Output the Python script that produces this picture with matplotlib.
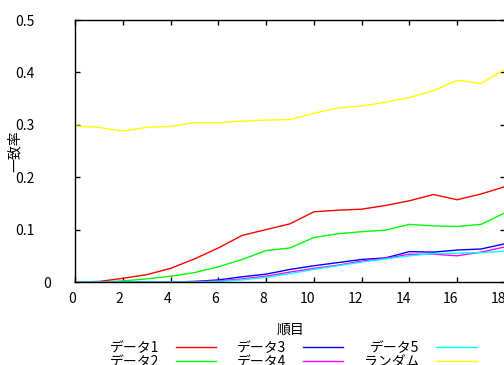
import matplotlib
matplotlib.use("Agg")
import matplotlib.pyplot as plt
from matplotlib.transforms import ScaledTranslation

plt.rcParams['font.family'] = ['Noto Sans CJK JP', 'DejaVu Sans']

# order position
steps = list(range(19))

data1 = [0.000, 0.001, 0.007, 0.014, 0.026, 0.044, 0.065, 0.089, 0.100, 0.111,
         0.134, 0.137, 0.139, 0.146, 0.155, 0.167, 0.157, 0.168, 0.182]
data2 = [0.000, 0.000, 0.002, 0.006, 0.011, 0.018, 0.029, 0.043, 0.060, 0.065,
         0.085, 0.092, 0.096, 0.099, 0.110, 0.107, 0.106, 0.110, 0.132]
data3 = [0.000, 0.000, 0.000, 0.000, 0.000, 0.001, 0.004, 0.010, 0.015, 0.024,
         0.031, 0.037, 0.043, 0.046, 0.058, 0.057, 0.061, 0.063, 0.073]
data4 = [0.000, 0.000, 0.000, 0.000, 0.000, 0.001, 0.002, 0.006, 0.011, 0.019,
         0.026, 0.032, 0.040, 0.045, 0.053, 0.053, 0.050, 0.057, 0.067]
data5 = [0.000, 0.000, 0.000, 0.000, 0.000, 0.000, 0.001, 0.004, 0.009, 0.016,
         0.024, 0.031, 0.038, 0.044, 0.050, 0.054, 0.055, 0.056, 0.059]
random_baseline = [0.298, 0.295, 0.288, 0.295, 0.297, 0.304, 0.304, 0.307, 0.309, 0.310,
                   0.322, 0.332, 0.336, 0.343, 0.352, 0.365, 0.385, 0.379, 0.406]

series_names = ['データ1', 'データ2', 'データ3', 'データ4', 'データ5', 'ランダム']
series_values = [data1, data2, data3, data4, data5, random_baseline]
series_colors = ['#ff0000', '#00ff00', '#0000ff', '#ff00ff', '#00ffff', '#ffff00']

x_ticks = [0, 2, 4, 6, 8, 10, 12, 14, 16, 18]
x_tick_labels = ['0', '2', '4', '6', '8', '10', '12', '14', '16', '18']
y_ticks = [0.0, 0.1, 0.2, 0.3, 0.4, 0.5]
y_tick_labels = ['0', '0.1', '0.2', '0.3', '0.4', '0.5']

W, H = 504, 365
fig = plt.figure(figsize=(W / 100, H / 100), dpi=100)
ax = fig.add_axes([75 / W, (H - 282) / H, (505 - 75) / W, (282 - 20) / H])

for name, vals, col in zip(series_names, series_values, series_colors):
    ax.plot(steps, vals, color=col, lw=1.0, label=name, clip_on=False)

ax.set_xlim(0, 18)
ax.set_ylim(0, 0.5)

for s in ax.spines.values():
    s.set_linewidth(1.0)
    s.set_color('black')

ax.tick_params(direction='in', length=3.5, width=1.0, top=True, right=True,
               labelsize=10)
ax.tick_params(axis='y', pad=13)
ax.tick_params(axis='x', pad=7)

ax.set_xticks(x_ticks)
ax.set_xticklabels(x_tick_labels)
ax.set_yticks(y_ticks)
ax.set_yticklabels(y_tick_labels)

# fixed-width style justification of tick labels
for tick in ax.yaxis.get_major_ticks():
    lab = tick.label1
    n = len(lab.get_text())
    lab.set_ha('left')
    lab.set_transform(lab.get_transform() +
                      ScaledTranslation(-n * 0.14, 0, fig.dpi_scale_trans))
for tick in ax.xaxis.get_major_ticks():
    lab = tick.label1
    n = len(lab.get_text())
    lab.set_ha('left')
    lab.set_transform(lab.get_transform() +
                      ScaledTranslation(-n * 0.07, 0, fig.dpi_scale_trans))

ax.set_xlabel('順目', fontsize=10, labelpad=12)
ax.set_ylabel('一致率', fontsize=10)
ax.yaxis.set_label_coords((15 - 75) / 430, (282 - 151) / 262)
ax.yaxis.label.set_va('center')

fig.legend(loc='upper left', bbox_to_anchor=(110 / W, 1 - 341 / H),
           ncol=3, frameon=False, markerfirst=False, fontsize=10,
           borderpad=0, borderaxespad=0, labelspacing=0.0,
           handlelength=2.9, handletextpad=1.2, columnspacing=1.5)

fig.savefig('out.png', dpi=100)
